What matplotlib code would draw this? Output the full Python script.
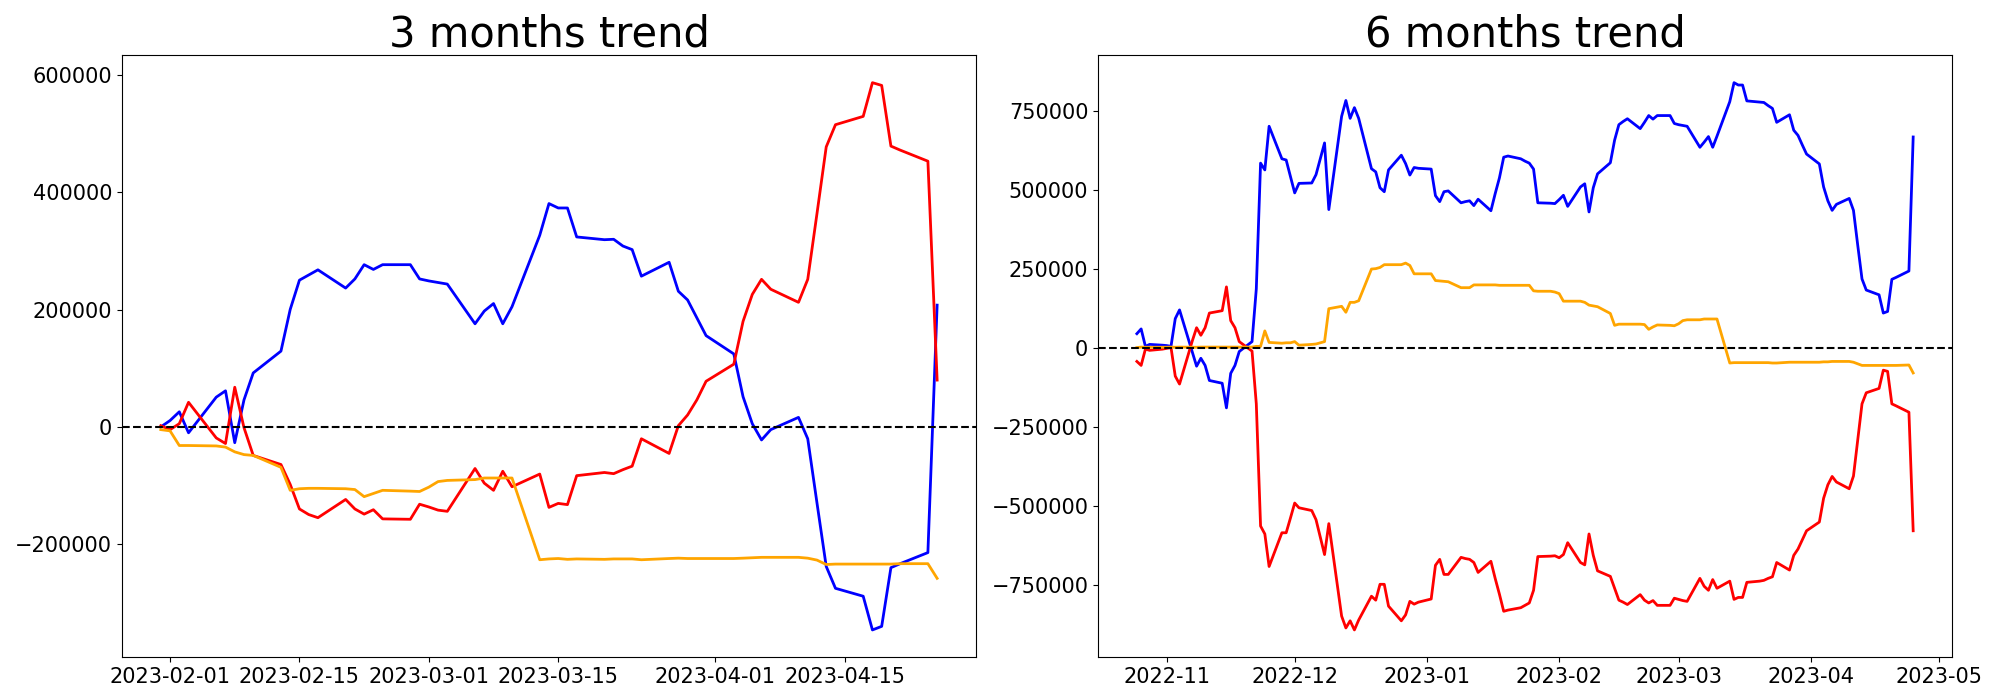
import matplotlib
matplotlib.use("Agg")
import matplotlib.pyplot as plt
import pandas as pd

# 3 months window, business days 2023-01-31 .. 2023-04-25
DATES_3M = pd.bdate_range("2023-01-31", "2023-04-25")

BLUE_3M = [
    0, 10800, 25700, -10100, 50700, 61500, -27000, 46000, 92000, 129200,
    200200, 250200, 259000, 267800, 236700, 252300, 276600, 268500, 276600, 276600,
    252300, 248900, 246200, 243500, 175800, 197500, 210300, 175800, 204900, 326700,
    380800, 373300, 373300, 323900, 319200, 319900, 308400, 302300, 257000, 280700,
    231300, 216400, 186000, 155600, 124400, 51400, 5400, -22300, -4700, 16200,
    -20300, -129800, -238000, -275300, -288800, -346300, -340200, -240100, -233300, -214400,
    207600,
]
RED_3M = [
    2000, -4700, 5400, 41900, -18900, -28400, 67600, -1400, -48700, -64200,
    -98100, -140000, -149500, -154900, -123800, -140000, -148800, -141300, -156900, -157600,
    -131900, -136600, -142000, -144000, -71000, -96000, -108200, -75700, -102100, -80500,
    -137300, -130500, -132600, -83200, -77800, -79800, -73000, -67000, -20300, -45300,
    2000, 20300, 46000, 77800, 106900, 179900, 225900, 251600, 234700, 212400,
    251600, 363800, 477500, 515300, 529500, 587000, 582300, 478800, 472000, 453100,
    79800,
]
ORANGE_3M = [
    -4700, -6800, -31800, -31800, -32500, -34500, -42600, -47300, -48700, -69000,
    -108200, -105500, -104800, -104800, -105500, -106900, -119000, -113600, -108200, -109600,
    -110200, -102800, -93300, -91300, -89900, -87200, -87200, -87200, -87200, -226600,
    -225200, -224500, -225900, -225200, -225900, -225200, -225200, -225200, -226600, -224500,
    -223900, -224500, -224500, -224500, -224500, -223900, -223200, -222500, -222500, -222500,
    -223900, -227200, -234700, -234000, -234000, -234000, -234000, -234000, -233300, -233300,
    -258300,
]

# 6 months window, business days 2022-10-25 .. 2023-04-25
DATES_6M = pd.bdate_range("2022-10-25", "2023-04-25")

BLUE_6M = [
    43900, 59000, 3800, 10000, 7500,
    6300, 3800, 91600, 119200, -15100, -59000, -33900, -56500, -104200, -112900,
    -190800, -81600, -56500, -12600, 18800, 185700, 583600, 562200, 700300, 597400,
    593600, 540900,
    489500, 519600, 520800, 547200, 597400, 647600, 436700, 731700, 781900, 725400,
    759300, 725400, 566000, 556000, 505800, 493200, 562200, 608700, 582300, 545900,
    569800, 567300,
    564800, 480700, 461800, 493200, 495700, 458100, 461800, 464400, 449300, 469400,
    433000, 486900, 537100, 602400, 606200, 597400, 589900, 583600, 564800, 458100,
    456800, 455600,
    468100, 481900, 446800, 508300, 518300, 429200, 505800, 549700, 584800, 656400,
    705300, 715400, 724100, 692800, 712800, 734200, 722900, 734200, 734200, 709100,
    705300, 702800, 700300, 633800, 650100, 667700, 633800, 668900, 778100, 838300,
    830800, 830800, 780600, 776800, 775600, 765600, 756800, 712800, 736700, 687700,
    671400, 641300, 612400,
    581100, 508300, 464400, 434200, 453100, 471900, 434200, 323800, 217100, 182000,
    166900, 109200, 114200, 215900, 222100, 242200, 666400,
]
RED_6M = [
    -43900, -56500, -5000, -8800, -5000,
    -2500, 0, -90400, -115500, 21300, 62800, 38900, 62800, 109200, 116700,
    192000, 85300, 62800, 18800, -11300, -178200, -564800, -589900, -692800, -586100,
    -586100, -539700,
    -492000, -507000, -515800, -544700, -599900, -655100, -557200, -849600, -887300, -864700,
    -893600, -862200, -786900, -799400, -749200, -749200, -818300, -864700, -845900, -803200,
    -812000, -805700,
    -795700, -689000, -670200, -717900, -717900, -663900, -667700, -670200, -680200, -711600,
    -676400, -730400, -780600, -834600, -830800, -823300, -815700, -808200, -768100, -661400,
    -660100, -658900,
    -665200, -655100, -617500, -680200, -687700, -589900, -657600, -706600, -724100, -761800,
    -799400, -805700, -813200, -781900, -799400, -808200, -800700, -815800, -815800, -793200,
    -796900, -800700, -803200, -730400, -755500, -768100, -734200, -761800, -739200, -796900,
    -790700, -790700, -743000, -739200, -736700, -730400, -725400, -680200, -704100, -657600,
    -637500, -608700, -579800,
    -552200, -476900, -434200, -407900, -425400, -446800, -406600, -291200, -178200, -143100,
    -129300, -71500, -75300, -178200, -184500, -204600, -579800,
]
ORANGE_6M = [
    0, 1500, 1000, 1000, 1000,
    1000, 1500, 1000, 1500, 1000, 1000, 1500, 1500, 1500, 1500,
    1500, 1500, 1500, 1500, 1500, 3800, 3800, 52700, 16300, 13800,
    15100, 15100,
    18800, 7500, 10000, 11300, 15100, 18800, 123000, 130500, 111700, 143100,
    143100, 148100, 248500, 249700, 253500, 262300, 262300, 262300, 267300, 259800,
    233400, 233400,
    233400, 212100, 210800, 209600, 208300, 189500, 189500, 189500, 198300, 198300,
    198300, 198300, 197000, 197000, 197000, 197000, 197000, 197000, 179500, 178200,
    178200, 175700,
    170700, 146800, 146800, 146800, 143100, 134300, 131800, 129300, 107900, 70300,
    74000, 74000, 74000, 74000, 72800, 57700, 65300, 71500, 70300, 69000,
    75300, 85300, 87900, 87900, 90400, 90400, 90400, 90400, -48900, -47700,
    -47700, -47700, -47700, -47700, -47700, -47700, -48900, -48900, -46400, -46400,
    -46400, -46400, -46400,
    -46400, -45200, -45200, -43900, -43900, -43900, -46400, -51500, -56500, -56500,
    -56500, -56500, -56500, -56500, -56500, -55200, -80300,
]

fig, axes = plt.subplots(1, 2, figsize=(20, 7), dpi=100)
fig.subplots_adjust(left=0.061, right=0.976, bottom=0.061, top=0.921, wspace=0.143)

panels = [
    (axes[0], DATES_3M, BLUE_3M, RED_3M, ORANGE_3M, "3 months trend"),
    (axes[1], DATES_6M, BLUE_6M, RED_6M, ORANGE_6M, "6 months trend"),
]
for ax, dates, blue, red, orange, title in panels:
    ax.plot(dates, blue, color="blue", lw=2)
    ax.plot(dates, red, color="red", lw=2)
    ax.plot(dates, orange, color="orange", lw=2)
    ax.axhline(0, color="black", linestyle="--", lw=1.5)
    ax.set_title(title, fontsize=30)
    ax.tick_params(labelsize=15)

fig.savefig("out.png")
